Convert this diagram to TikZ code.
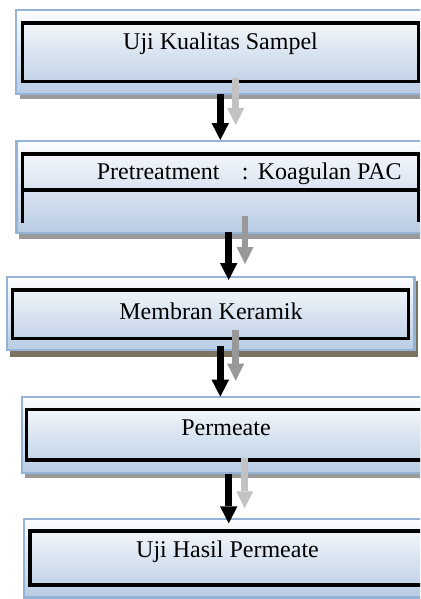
\documentclass[tikz,border=0pt]{standalone}
\usepackage{fontspec}
\setmainfont{Liberation Serif}
\usetikzlibrary{arrows.meta}
\definecolor{boxborder}{HTML}{95B3D7}
\definecolor{gtop}{HTML}{FCFDFE}
\definecolor{gbot}{HTML}{B8CCE4}
\definecolor{shadowgray}{HTML}{9A9A9A}
\definecolor{shadowbrown}{HTML}{7E7262}
\definecolor{greylight}{HTML}{C2C2C2}
\definecolor{greydark}{HTML}{999999}
\begin{document}
\begin{tikzpicture}[x=1pt,y=-1pt,
  outerbox/.style={draw=boxborder, line width=2.3pt, top color=gtop, bottom color=gbot},
  innerbox/.style={draw=black, line width=3.3pt},
  shadowbox/.style={fill=shadowgray},
  boxlabel/.style={font=\fontsize{24}{28}\selectfont, inner sep=0pt, anchor=base},
  blackarrow/.style={draw=black, line width=7pt, -{Triangle[width=17.5pt,length=17pt,line width=0pt]}},
  greyarrow/.style={line width=6.5pt, -{Triangle[width=17pt,length=17pt,line width=0pt]}},
]
\useasboundingbox (0,0) rectangle (420,599);
\clip (0,0) rectangle (420,599);

% Box 1
\fill[shadowbox] (20,14) rectangle (440,99.3);
\path[outerbox] (16,10.3) rectangle (440,94);
\draw[innerbox] (22.3,23) rectangle (418.3,81.7);
\node[boxlabel] (t1) at (220.5,49.3) {Uji Kualitas Sampel};

% Box 2
\fill[shadowbox] (19,145) rectangle (440,239.3);
\path[outerbox] (16.5,141.2) rectangle (440,233);
\draw[innerbox] (22.3,222.5) -- (22.3,154) -- (418.7,154) -- (418.7,222);
\draw[innerbox] (22.3,190) -- (418.7,190);
\node[boxlabel, anchor=base west] (t2) at (96.7,179.3) {Pretreatment\hspace{22.4pt}:\hspace{9.3pt}Koagulan PAC};

% Box 3
\fill[shadowbox, fill=shadowbrown] (9.5,281) rectangle (417.5,356.5);
\path[outerbox] (7,277.2) rectangle (414.5,349.7);
\draw[innerbox] (12.7,290) rectangle (408.3,338.3);
\node[boxlabel] (t3) at (211,319.3) {Membran Keramik};

% Box 4
\fill[shadowbox] (24.5,401) rectangle (440,477.5);
\path[outerbox] (22,397.2) rectangle (440,472.8);
\draw[innerbox] (26.7,409.7) rectangle (440,460);
\node[boxlabel] (t4) at (226,435.7) {Permeate};

% Box 5
\path[outerbox] (23.8,518.8) rectangle (440,597.5);
\draw[innerbox] (30,531) rectangle (440,585);
\node[boxlabel] (t5) at (227.5,557.3) {Uji Hasil Permeate};

% arrow end points
\coordinate (a1s) at (220.3,94.3);  \coordinate (a1e) at (220.3,140);
\coordinate (g1s) at (235.7,78.3);  \coordinate (g1e) at (235.7,125);
\coordinate (a2s) at (228.7,231.7); \coordinate (a2e) at (228.7,280);
\coordinate (g2s) at (245,216);     \coordinate (g2e) at (245,264);
\coordinate (a3s) at (220.3,346);   \coordinate (a3e) at (220.3,396.7);
\coordinate (g3s) at (235.7,330);   \coordinate (g3e) at (235.7,380.7);
\coordinate (a4s) at (228.7,474.3); \coordinate (a4e) at (228.7,523.3);
\coordinate (g4s) at (244.7,458.3); \coordinate (g4e) at (244.7,508.3);

% grey (shadow) arrows
\draw[greyarrow, draw=greylight, fill=greylight] (g1s) -- (g1e);
\draw[greyarrow, draw=greydark, fill=greydark] (g2s) -- (g2e);
\draw[greyarrow, draw=greydark, fill=greydark] (g3s) -- (g3e);
\draw[greyarrow, draw=greylight, fill=greylight] (g4s) -- (g4e);

% black arrows
\draw[blackarrow] (a1s) -- (a1e);
\draw[blackarrow] (a2s) -- (a2e);
\draw[blackarrow] (a3s) -- (a3e);
\draw[blackarrow] (a4s) -- (a4e);
\end{tikzpicture}
\end{document}
